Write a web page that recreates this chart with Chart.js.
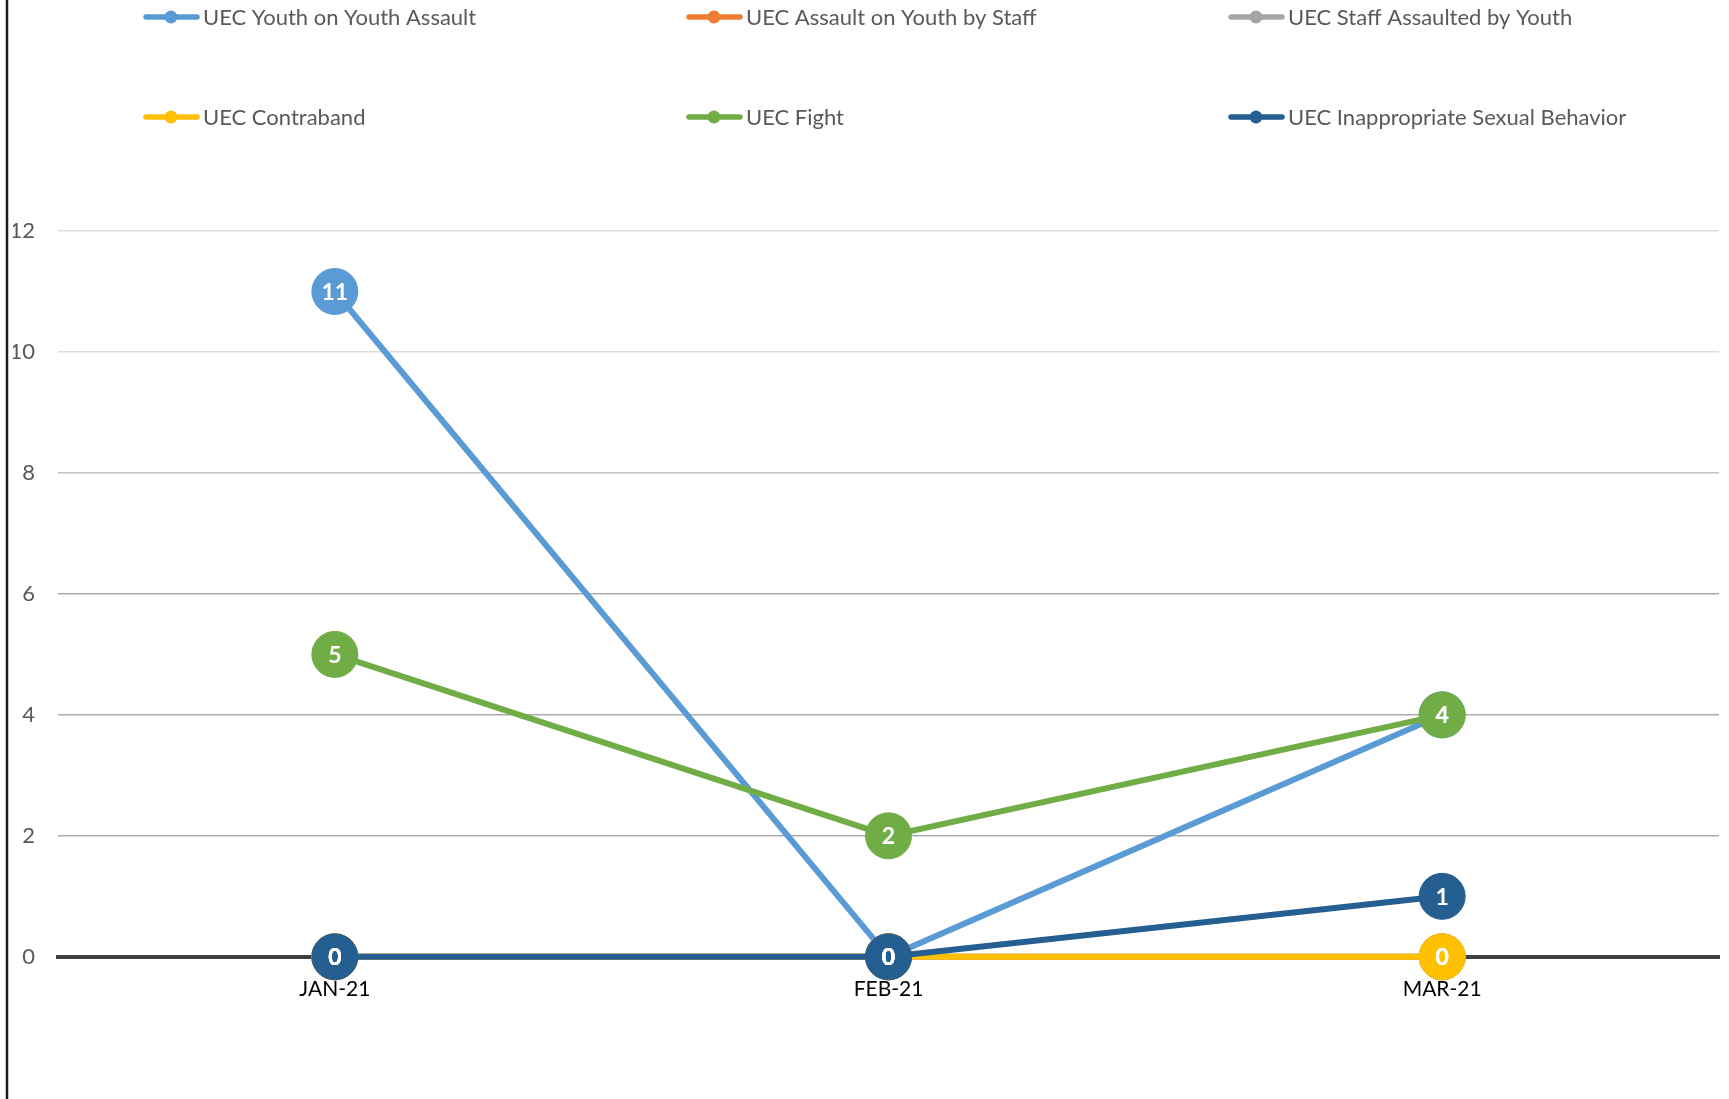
<!DOCTYPE html>
<html>
<head>
<meta charset="utf-8">
<title>UEC Incidents</title>
<script src="https://cdn.jsdelivr.net/npm/chart.js@4.4.1/dist/chart.umd.min.js"></script>
<style>
    html, body { margin: 0; padding: 0; background: #fff; overflow: hidden; }
    #lineChart { display: block; }
</style>
</head>
<body>
<canvas id="lineChart" width="1729" height="1099"></canvas>
<script>
var months = ["JAN-21", "FEB-21", "MAR-21"];
var seriesNames = [
    "UEC Youth on Youth Assault",
    "UEC Assault on Youth by Staff",
    "UEC Staff Assaulted by Youth",
    "UEC Contraband",
    "UEC Fight",
    "UEC Inappropriate Sexual Behavior"
];
var youthOnYouth = [11, 0, 4];
var assaultByStaff = [0, 0, 0];
var staffAssaulted = [0, 0, 0];
var contraband = [0, 0, 0];
var fight = [5, 2, 4];
var sexualBehavior = [0, 0, 1];
var yTicks = [0, 2, 4, 6, 8, 10, 12];
var seriesColors = ["#5B9BD5", "#ED7D31", "#A5A5A5", "#FFC000", "#70AD47", "#255E91"];

var FONT = "Lato, 'Open Sans', sans-serif";

/**
 *
 * @param index
 * @param values
 */
function makeDataset(index, values) {
    var color = seriesColors[index];
    return {
        label: seriesNames[index],
        data: values,
        // later series sit on top, like in Excel
        order: seriesNames.length - index,
        borderColor: color,
        backgroundColor: color,
        borderWidth: 6,
        pointRadius: 23,
        pointHoverRadius: 23,
        pointBackgroundColor: color,
        pointBorderColor: color,
        pointBorderWidth: 1,
        tension: 0,
        clip: false
    };
}

// left edge of the chart frame
var frameLine = {
    id: 'frameLine',
    beforeDraw: function (chart) {
        var ctx = chart.ctx;
        ctx.save();
        ctx.strokeStyle = '#1a1a1a';
        ctx.lineWidth = 2.5;
        ctx.beginPath();
        ctx.moveTo(7, 0);
        ctx.lineTo(7, chart.height);
        ctx.stroke();
        ctx.restore();
    }
};

// white value inside every marker
var valueLabels = {
    id: 'valueLabels',
    afterDatasetsDraw: function (chart) {
        var ctx = chart.ctx;
        ctx.save();
        ctx.fillStyle = '#ffffff';
        ctx.font = 'bold 23px ' + FONT;
        ctx.textAlign = 'center';
        ctx.textBaseline = 'middle';
        chart.data.datasets.forEach(function (ds, i) {
            var meta = chart.getDatasetMeta(i);
            meta.data.forEach(function (pt, j) {
                ctx.fillText(String(ds.data[j]), pt.x, pt.y + 1);
            });
        });
        ctx.restore();
    }
};

// legend laid out in a 3 x 2 grid like the original
var gridLegend = {
    id: 'gridLegend',
    afterDraw: function (chart, args, opts) {
        var ctx = chart.ctx;
        ctx.save();
        ctx.font = opts.fontSize + 'px ' + FONT;
        ctx.textBaseline = 'middle';
        ctx.textAlign = 'left';
        chart.data.datasets.forEach(function (ds, i) {
            var x = opts.columns[i % 3];
            var y = opts.rows[Math.floor(i / 3)];
            ctx.strokeStyle = ds.borderColor;
            ctx.lineWidth = 5.5;
            ctx.lineCap = 'round';
            ctx.beginPath();
            ctx.moveTo(x + 3, y);
            ctx.lineTo(x + 54, y);
            ctx.stroke();
            ctx.fillStyle = ds.borderColor;
            ctx.beginPath();
            ctx.arc(x + 28, y, 6.5, 0, Math.PI * 2);
            ctx.fill();
            ctx.fillStyle = '#595959';
            ctx.fillText(ds.label, x + 60, y + 1);
        });
        ctx.restore();
    }
};

function gridColor(c) {
    if (!c.tick) return '#d9d9d9';
    if (c.tick.value <= 6) return '#ababab';
    if (c.tick.value <= 8) return '#c4c4c4';
    return '#dcdcdc';
}

var ctx = document.getElementById("lineChart");
var myChart = new Chart(ctx, {
    type: 'line',
    data: {
        labels: months,
        datasets: [
            makeDataset(0, youthOnYouth),
            makeDataset(1, assaultByStaff),
            makeDataset(2, staffAssaulted),
            makeDataset(3, contraband),
            makeDataset(4, fight),
            makeDataset(5, sexualBehavior)
        ]
    },
    options: {
        responsive: false,
        animation: false,
        devicePixelRatio: 1,
        layout: {
            // big markers would otherwise push the plot in from the right
            autoPadding: false,
            padding: { top: 231, right: 10, bottom: 77, left: 13 }
        },
        plugins: {
            legend: { display: false },
            tooltip: { enabled: false },
            gridLegend: {
                columns: [143, 686, 1228],
                rows: [17, 117],
                fontSize: 22
            }
        },
        scales: {
            x: {
                type: 'category',
                offset: true,
                grid: { display: false, drawTicks: false },
                border: { display: true, color: '#404040', width: 4 },
                ticks: {
                    color: '#000000',
                    padding: 20,
                    font: { family: FONT, size: 21 }
                }
            },
            y: {
                min: 0,
                max: 12,
                afterBuildTicks: function (scale) {
                    scale.ticks = yTicks.map(function (v) { return { value: v }; });
                },
                afterFit: function (scale) {
                    scale.width = 45;
                },
                grid: {
                    color: gridColor,
                    lineWidth: 1.5,
                    drawTicks: false
                },
                border: { display: false },
                ticks: {
                    color: '#595959',
                    padding: 23,
                    font: { family: FONT, size: 22 }
                }
            }
        }
    },
    plugins: [frameLine, valueLabels, gridLegend]
});
</script>
</body>
</html>
